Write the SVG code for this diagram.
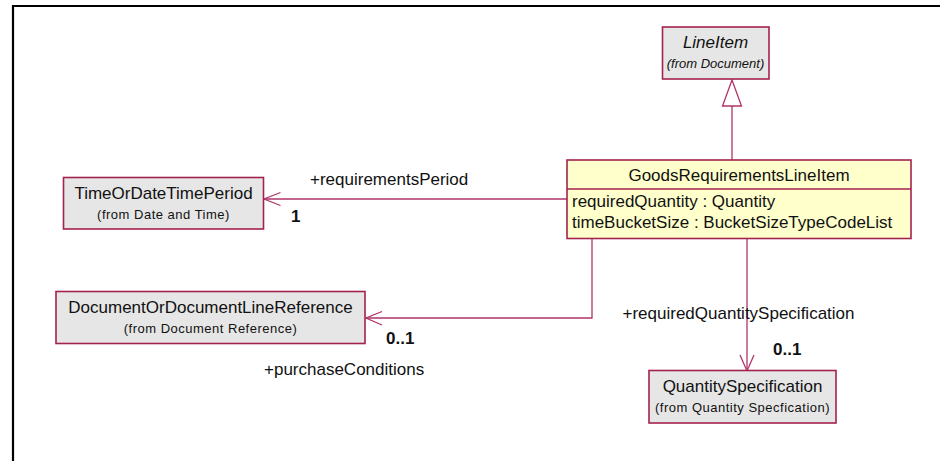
<svg xmlns="http://www.w3.org/2000/svg" width="940" height="461" viewBox="0 0 940 461">
<style>
text{font-family:"Liberation Sans",Arial,sans-serif;fill:#111}
.nm{font-size:17px;text-anchor:middle}
.sm{font-size:13px;text-anchor:middle;letter-spacing:0.5px}
.lb{font-size:17px}
.mu{font-size:17px;font-weight:bold}
.cls{fill:#E6E6E6;stroke:#A3224F;stroke-width:1.6}
.cur{fill:#FFFFCC;stroke:#A3224F;stroke-width:1.6}
.ln{fill:none;stroke:#B0346A;stroke-width:1.3}
.it{font-style:italic}
</style>
<rect width="940" height="461" fill="#fff"/>
<path d="M13,461 V6 H940" fill="none" stroke="#000" stroke-width="2.2"/>
<g id="connectors">
<path class="ln" d="M732,160 V106"/>
<polygon points="732,80 722.5,106 741.5,106" fill="#fff" stroke="#B0346A" stroke-width="1.3"/>
<path class="ln" d="M567,199 H264"/>
<path class="ln" d="M280.5,192.5 L264,199 L280.5,205.5"/>
<path class="ln" d="M592,239 V318 H366"/>
<path class="ln" d="M382,311.5 L366,318 L382,325"/>
<path class="ln" d="M747,239 V371"/>
<path class="ln" d="M740,355 L747,371 L754,355"/>
<text class="lb" x="310" y="185">+requirementsPeriod</text>
<text class="mu" x="291" y="222">1</text>
<text class="mu" x="386" y="344">0..1</text>
<text class="lb" x="264" y="375">+purchaseConditions</text>
<text class="lb" x="622.5" y="319">+requiredQuantitySpecification</text>
<text class="mu" x="773" y="355">0..1</text>
</g>
<g id="LineItem">
<rect class="cls" x="662.5" y="27" width="106.5" height="52"/>
<text class="nm it" x="715.5" y="48">LineItem</text>
<text class="sm it" x="715.5" y="68" style="letter-spacing:0">(from Document)</text>
</g>
<g id="GoodsRequirementsLineItem">
<rect class="cur" x="567" y="160" width="344" height="78.5"/>
<line x1="567" y1="189" x2="911" y2="189" stroke="#A3224F" stroke-width="1.6"/>
<text class="nm" x="739" y="181">GoodsRequirementsLineItem</text>
<text class="lb" x="572" y="207">requiredQuantity : Quantity</text>
<text class="lb" x="572" y="228">timeBucketSize : BucketSizeTypeCodeList</text>
</g>
<g id="TimeOrDateTimePeriod">
<rect class="cls" x="63.5" y="177.5" width="200" height="51.5"/>
<text class="nm" x="163.5" y="199">TimeOrDateTimePeriod</text>
<text class="sm" x="163.5" y="219">(from Date and Time)</text>
</g>
<g id="DocumentOrDocumentLineReference">
<rect class="cls" x="56" y="291.5" width="309" height="52"/>
<text class="nm" x="210.5" y="313">DocumentOrDocumentLineReference</text>
<text class="sm" x="210.5" y="333">(from Document Reference)</text>
</g>
<g id="QuantitySpecification">
<rect class="cls" x="649" y="370.5" width="187" height="52.5"/>
<text class="nm" x="742.5" y="392">QuantitySpecification</text>
<text class="sm" x="742.5" y="412">(from Quantity Specfication)</text>
</g>
</svg>
